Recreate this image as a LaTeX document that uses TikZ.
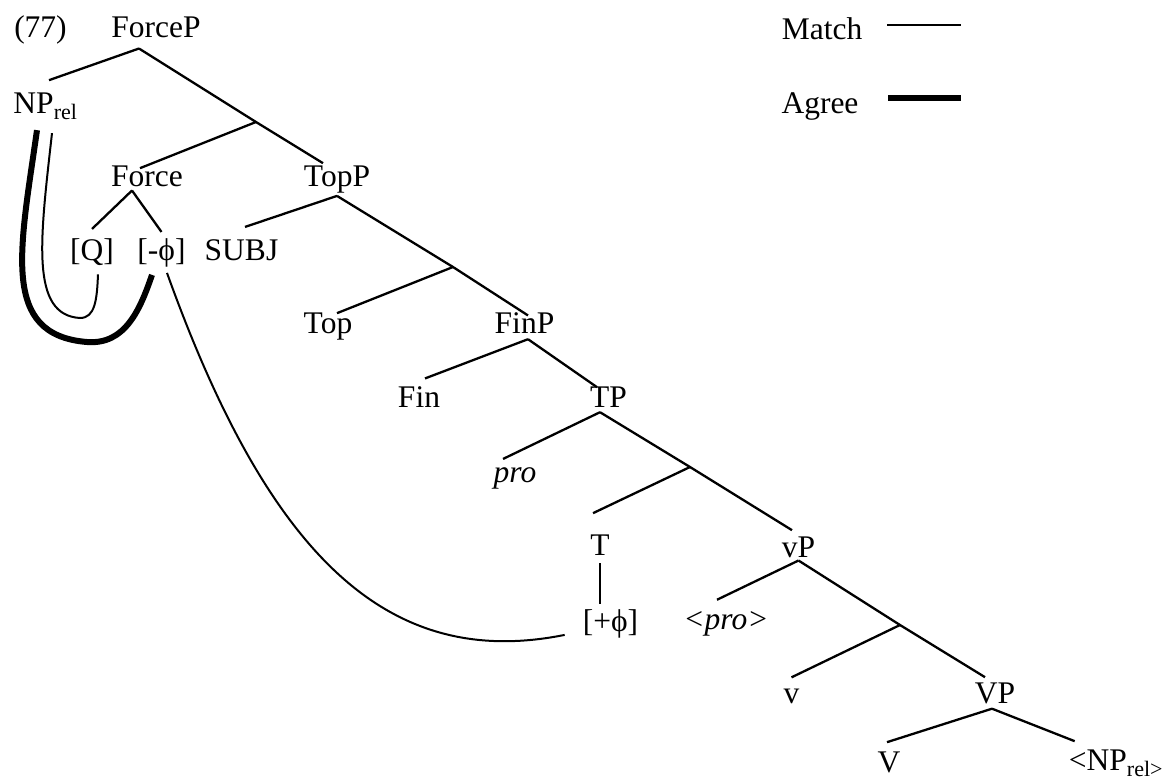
\documentclass[tikz,border=0pt]{standalone}
\usepackage{fontspec}
\setmainfont{Liberation Serif}

\begin{document}
\begin{tikzpicture}[x=1pt,y=-1pt,
    word/.style={anchor=base,inner sep=3pt,font=\fontsize{31.5}{36}\selectfont},
    branch/.style={line width=2.3pt},
    matchline/.style={line width=2pt},
    agreeline/.style={line width=6pt}]
      \useasboundingbox (0,0) rectangle (1171,782);

      % labels
      \node[word] (ex) at (40.5,37) {(77)};
      \node[word] (forcep) at (156,37) {ForceP};
      \node[word] (nprel) at (45.5,113) {NP\textsubscript{rel}};
      \node[word] (force) at (147,186) {Force};
      \node[word] (topp) at (337,186) {TopP};
      \node[word] (q) at (92,260) {[Q]};
      \node[word] (mphi) at (161.5,260) {[-ϕ]};
      \node[word] (subj) at (241.5,260) {SUBJ};
      \node[word] (top) at (328,333) {Top};
      \node[word] (finp) at (524.5,333) {FinP};
      \node[word] (fin) at (419,407) {Fin};
      \node[word] (tp) at (608.5,407) {TP};
      \node[word] (pro) at (515,482) {\textit{pro}};
      \node[word] (t) at (600,555) {T};
      \node[word] (pphi) at (610.5,631) {[+ϕ]};
      \node[word] (vpro) at (726,629) {\textit{<pro>}};
      \node[word] (smallvp) at (798.5,557) {vP};
      \node[word] (smallv) at (791.5,703) {v};
      \node[word] (bigvp) at (995,703) {VP};
      \node[word] (bigv) at (889,772) {V};
      \node[word] (nptrace) at (1116,770) {<NP\textsubscript{rel>}};

      \node[word] (match) at (822,39) {Match};
      \node[word] (agree) at (820,113) {Agree};
      \draw[matchline] (887,25) -- (961,25);
      \draw[agreeline] (888,98) -- (961,98);

      % bar levels
      \coordinate (fbar) at (256,122);
      \coordinate (tbar) at (453,267);
      \coordinate (tpbar) at (690,467);
      \coordinate (vbar) at (900,625);

      % tree
      \draw[branch] ([shift={(-17,8)}]forcep.south) -- ([shift={(3.5,-9)}]nprel.north);
      \draw[branch] ([shift={(-17,8)}]forcep.south) -- (fbar) -- ([shift={(-14,1)}]topp.north);
      \draw[branch] (fbar) -- ([shift={(-7,6)}]force.north);
      \draw[branch] ([shift={(-15,1)}]force.south) -- ([shift={(0,-6)}]q.north);
      \draw[branch] ([shift={(-15,1)}]force.south) -- ([shift={(0,-3)}]mphi.north);
      \draw[branch] (topp.south) -- ([shift={(3.5,-9)}]subj.north);
      \draw[branch] (topp.south) -- (tbar) -- ([shift={(3.5,6.5)}]finp.north);
      \draw[branch] (tbar) -- ([shift={(9,4)}]top.north);
      \draw[branch] ([shift={(3.5,3)}]finp.south) -- ([shift={(6,-4.5)}]fin.north);
      \draw[branch] ([shift={(3.5,3)}]finp.south) -- ([shift={(-11.5,4)}]tp.north);
      \draw[branch] ([shift={(-8.5,2)}]tp.south) -- ([shift={(-12,-5)}]pro.north);
      \draw[branch] ([shift={(-8.5,2)}]tp.south) -- (tpbar) -- ([shift={(-6.5,-3)}]smallvp.north);
      \draw[branch] (tpbar) -- ([shift={(-7,-18)}]t.north);
      \draw[branch] ([shift={(0,5)}]t.south) -- ([shift={(-10.5,-1.5)}]pphi.north);
      \draw[branch] (smallvp.south) -- ([shift={(-9,-8)}]vpro.north);
      \draw[branch] (smallvp.south) -- (vbar) -- ([shift={(-10,-2)}]bigvp.north);
      \draw[branch] (vbar) -- ([shift={(0,-8)}]smallv.north);
      \draw[branch] ([shift={(-3,2)}]bigvp.south) -- ([shift={(-2,-6)}]bigv.north);
      \draw[branch] ([shift={(-3,2)}]bigvp.south) -- ([shift={(9,-5)}]nptrace.north west);

      % match and agree
      \draw[agreeline] ([shift={(-8.5,7)}]nprel.south) .. controls (20,250) and (0,335) .. (87,342)
        .. controls (125,345) and (140,310) .. ([shift={(-9.5,5)}]mphi.south);
      \draw[matchline] ([shift={(6.5,10)}]nprel.south) .. controls (40,240) and (30,315) .. (80,318)
        .. controls (95,318) and (97,300) .. ([shift={(6,6)}]q.south);
      \draw[matchline] ([shift={(5.5,3)}]mphi.south) .. controls (270,560) and (390,670)
        .. ([shift={(-15,-6)}]pphi.south west);
\end{tikzpicture}
\end{document}
